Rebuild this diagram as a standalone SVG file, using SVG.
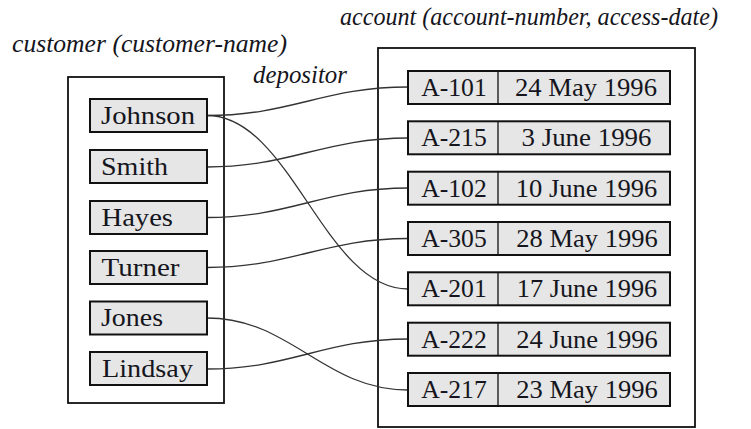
<svg xmlns="http://www.w3.org/2000/svg" width="751" height="429" viewBox="0 0 751 429">
<style>
.outer{fill:#fff;stroke:#111;stroke-width:1.8}
.cell{fill:#e6e6e6;stroke:#111;stroke-width:2}
.div{stroke:#111;stroke-width:1.3}
.t{font-family:"Liberation Serif","Times New Roman",serif;font-size:26px;fill:#151520}
.it{font-family:"Liberation Serif","Times New Roman",serif;font-size:25px;font-style:italic;fill:#151520}
.c{fill:none;stroke:#333;stroke-width:1.3}
</style>
<rect width="751" height="429" fill="#fff"/>
<g id="titles">
<text class="it" x="12" y="52" textLength="275" lengthAdjust="spacingAndGlyphs">customer (customer-name)</text>
<text class="it" x="340" y="25" textLength="378" lengthAdjust="spacingAndGlyphs">account (account-number, access-date)</text>
<text class="it" x="253" y="83" textLength="94" lengthAdjust="spacingAndGlyphs">depositor</text>
</g>
<g id="customer">
<rect class="outer" x="68" y="77" width="156" height="326"/>
</g>
<g id="account">
<rect class="outer" x="378" y="48" width="317" height="379"/>
</g>
<g id="connectors">
<path class="c" d="M207,115.5 C291,115.5 324,87 408,87"/>
<path class="c" d="M207,115.5 C291,115.5 324,289 408,289"/>
<path class="c" d="M207,167 C291,167 324,138 408,138"/>
<path class="c" d="M207,217.5 C291,217.5 324,188 408,188"/>
<path class="c" d="M207,267.5 C291,267.5 324,238.5 408,238.5"/>
<path class="c" d="M207,318 C291,318 324,390 408,390"/>
<path class="c" d="M207,369 C291,369 324,339 408,339"/>
</g>
<g id="c-johnson"><rect class="cell" x="90" y="99" width="117" height="33"/><text class="t" x="101" y="124" textLength="94" lengthAdjust="spacingAndGlyphs">Johnson</text></g>
<g id="c-smith"><rect class="cell" x="90" y="150" width="117" height="33"/><text class="t" x="101" y="174.5" textLength="67" lengthAdjust="spacingAndGlyphs">Smith</text></g>
<g id="c-hayes"><rect class="cell" x="90" y="201" width="117" height="33"/><text class="t" x="101.5" y="225.5" textLength="71.5" lengthAdjust="spacingAndGlyphs">Hayes</text></g>
<g id="c-turner"><rect class="cell" x="90" y="251" width="117" height="33"/><text class="t" x="101.5" y="275.5" textLength="78" lengthAdjust="spacingAndGlyphs">Turner</text></g>
<g id="c-jones"><rect class="cell" x="90" y="301.5" width="117" height="33"/><text class="t" x="101" y="326" textLength="62" lengthAdjust="spacingAndGlyphs">Jones</text></g>
<g id="c-lindsay"><rect class="cell" x="90" y="352" width="117" height="33"/><text class="t" x="102" y="376.5" textLength="91" lengthAdjust="spacingAndGlyphs">Lindsay</text></g>
<g id="a-101"><rect class="cell" x="408" y="71" width="262" height="33"/><line class="div" x1="498" y1="71" x2="498" y2="104"/><text class="t" x="454" y="96" text-anchor="middle" textLength="65.5" lengthAdjust="spacingAndGlyphs">A-101</text><text class="t" x="586" y="96" text-anchor="middle" textLength="142" lengthAdjust="spacingAndGlyphs">24 May 1996</text></g>
<g id="a-215"><rect class="cell" x="408" y="121.3" width="262" height="33"/><line class="div" x1="498" y1="121.3" x2="498" y2="154.3"/><text class="t" x="454" y="146.3" text-anchor="middle" textLength="65.5" lengthAdjust="spacingAndGlyphs">A-215</text><text class="t" x="586.5" y="146.3" text-anchor="middle" textLength="130" lengthAdjust="spacingAndGlyphs">3 June 1996</text></g>
<g id="a-102"><rect class="cell" x="408" y="171.7" width="262" height="33"/><line class="div" x1="498" y1="171.7" x2="498" y2="204.7"/><text class="t" x="454" y="196.7" text-anchor="middle" textLength="65.5" lengthAdjust="spacingAndGlyphs">A-102</text><text class="t" x="586.5" y="196.7" text-anchor="middle" textLength="141.5" lengthAdjust="spacingAndGlyphs">10 June 1996</text></g>
<g id="a-305"><rect class="cell" x="408" y="222" width="262" height="33"/><line class="div" x1="498" y1="222" x2="498" y2="255"/><text class="t" x="454" y="247" text-anchor="middle" textLength="65.5" lengthAdjust="spacingAndGlyphs">A-305</text><text class="t" x="587" y="247" text-anchor="middle" textLength="141.5" lengthAdjust="spacingAndGlyphs">28 May 1996</text></g>
<g id="a-201"><rect class="cell" x="408" y="272.3" width="262" height="33"/><line class="div" x1="498" y1="272.3" x2="498" y2="305.3"/><text class="t" x="454" y="297.3" text-anchor="middle" textLength="65.5" lengthAdjust="spacingAndGlyphs">A-201</text><text class="t" x="587" y="297.3" text-anchor="middle" textLength="140.5" lengthAdjust="spacingAndGlyphs">17 June 1996</text></g>
<g id="a-222"><rect class="cell" x="408" y="322.7" width="262" height="33"/><line class="div" x1="498" y1="322.7" x2="498" y2="355.7"/><text class="t" x="454" y="347.7" text-anchor="middle" textLength="65.5" lengthAdjust="spacingAndGlyphs">A-222</text><text class="t" x="587" y="347.7" text-anchor="middle" textLength="141.5" lengthAdjust="spacingAndGlyphs">24 June 1996</text></g>
<g id="a-217"><rect class="cell" x="408" y="373" width="262" height="33"/><line class="div" x1="498" y1="373" x2="498" y2="406"/><text class="t" x="454" y="398" text-anchor="middle" textLength="65.5" lengthAdjust="spacingAndGlyphs">A-217</text><text class="t" x="587" y="398" text-anchor="middle" textLength="141.5" lengthAdjust="spacingAndGlyphs">23 May 1996</text></g>
</svg>
